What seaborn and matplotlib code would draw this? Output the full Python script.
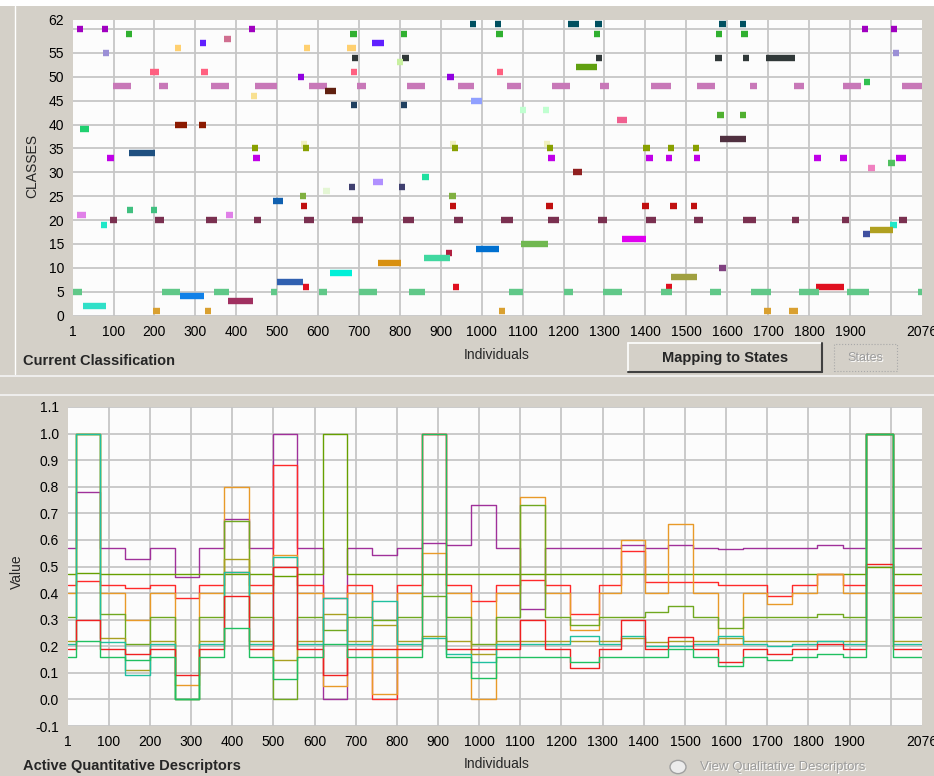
import numpy as np
import pandas as pd
import matplotlib
matplotlib.use("Agg")
import matplotlib.pyplot as plt
from matplotlib.patches import Rectangle, Circle
from matplotlib.lines import Line2D
import seaborn as sns

# ---------------- DATA ----------------
# Top panel: class assignment segments (start individual, end individual, class)
seg_start = [10, 71, 431, 1929, 2000,
             971, 1032, 1211, 1277, 1580, 1631,
             130, 678, 802, 1035, 1274, 1572, 1634,
             370, 311, 732, 250, 565, 671, 74, 2005,
             682, 805, 1279, 1570, 1638, 1695, 792, 1231,
             190, 315, 680, 1037, 550, 915, 1934,
             99, 211, 338, 446, 578, 695, 818, 942, 1062, 1172, 1290, 1414, 1527, 1656, 1764, 1884, 2028,
             617, 435, 974, 680, 802, 1093, 1149, 1575, 1631, 1331, 250, 310, 18, 1583,
             558, 922, 1152,
             438, 562, 927, 1159, 1394, 1455, 1516,
             138,
             84, 441, 1162, 1402, 1450, 1518, 1812, 1876, 2012,
             1993, 1944, 1223, 854, 734, 675, 797, 612, 555, 920, 490,
             558, 922, 1157, 1392, 1460, 1511,
             132, 191, 11, 375,
             92, 201, 326, 444, 566, 683, 808, 933, 1047, 1162, 1285, 1402, 1519, 1639, 1759, 1881, 2020,
             69, 1998, 1950, 1932, 1343, 1097, 986, 912, 859, 746, 1580, 629, 1463, 500,
             562, 929, 1450, 1818,
             1, 219, 346, 484, 602, 700, 822, 1067, 1201, 1296, 1438, 1558, 1658, 1776, 1893, 2067,
             263, 380, 26,
             197, 323, 1042, 1690, 1751]
seg_end = [26, 87, 447, 1945, 2016,
           987, 1048, 1238, 1293, 1596, 1647,
           146, 694, 818, 1051, 1290, 1588, 1650,
           386, 327, 761, 266, 581, 692, 90, 2021,
           698, 821, 1295, 1586, 1654, 1766, 808, 1282,
           212, 331, 696, 1053, 566, 931, 1950,
           143, 233, 382, 500, 622, 717, 862, 981, 1096, 1216, 1312, 1463, 1571, 1673, 1788, 1928, 2076,
           644, 451, 1001, 696, 818, 1109, 1165, 1591, 1647, 1356, 280, 326, 40, 1646,
           574, 938, 1168,
           454, 578, 943, 1175, 1410, 1471, 1532,
           202,
           100, 457, 1178, 1418, 1466, 1534, 1828, 1892, 2036,
           2009, 1960, 1245, 870, 759, 691, 813, 628, 571, 936, 514,
           574, 938, 1173, 1408, 1476, 1527,
           148, 207, 33, 391,
           108, 223, 353, 460, 590, 710, 835, 955, 1077, 1189, 1307, 1426, 1541, 1671, 1776, 1898, 2040,
           85, 2014, 2006, 1948, 1402, 1162, 1042, 928, 923, 803, 1596, 683, 1526, 563,
           578, 945, 1466, 1886,
           23, 263, 383, 500, 622, 744, 862, 1101, 1223, 1343, 1465, 1585, 1707, 1825, 1947, 2076,
           321, 441, 82,
           213, 339, 1058, 1706, 1772]
seg_class = [60, 60, 60, 60, 60,
             61, 61, 61, 61, 61, 61,
             59, 59, 59, 59, 59, 59, 59,
             58, 57, 57, 56, 56, 56, 55, 55,
             54, 54, 54, 54, 54, 54, 53, 52,
             51, 51, 51, 51, 50, 50, 49,
             48, 48, 48, 48, 48, 48, 48, 48, 48, 48, 48, 48, 48, 48, 48, 48, 48,
             47, 46, 45, 44, 44, 43, 43, 42, 42, 41, 40, 40, 39, 37,
             36, 36, 36,
             35, 35, 35, 35, 35, 35, 35,
             34,
             33, 33, 33, 33, 33, 33, 33, 33, 33,
             32, 31, 30, 29, 28, 27, 27, 26, 25, 25, 24,
             23, 23, 23, 23, 23, 23,
             22, 22, 21, 21,
             20, 20, 20, 20, 20, 20, 20, 20, 20, 20, 20, 20, 20, 20, 20, 20, 20,
             19, 19, 18, 17, 16, 15, 14, 13, 12, 11, 10, 9, 8, 7,
             6, 6, 6, 6,
             5, 5, 5, 5, 5, 5, 5, 5, 5, 5, 5, 5, 5, 5, 5, 5,
             4, 3, 2,
             1, 1, 1, 1, 1]

# Bottom panel: descriptor values, piecewise constant per block of individuals
block_starts = [1, 20, 78, 140, 200, 262, 320, 380, 440, 500, 558, 620, 680, 740, 800,
                860, 920, 980, 1040, 1100, 1160, 1220, 1290, 1345, 1402, 1460, 1520,
                1580, 1640, 1700, 1760, 1820, 1885, 1940, 2005]
last_individual = 2076

desc_purple = [.57, .78, .57, .53, .57, .46, .57, .68, .57, 1.0, .57, 0.0, .57, .545, .57, .59, .58, .73,
               .57, .34, .57, .57, .57, .58, .57, .58, .57, .565, .57, .57, .57, .58, .57, 1.0, .57]
desc_green_top = [.47, .475, .47, .47, .47, .47, .47, .47, .47, .465, .47, 1.0, .47, .47, .47, .47, .47, .47,
                  .47, .47, .47, .47, .47, .47, .47, .47, .47, .47, .47, .47, .47, .47, .47, .50, .47]
desc_red_top = [.43, .445, .43, .42, .43, .38, .43, .48, .43, .88, .43, .38, .43, .0, .43, 1.0, .43, .37,
                .43, .45, .43, .32, .43, .56, .44, .44, .44, .43, .43, .39, .43, .47, .43, 1.0, .43]
desc_orange = [.40, 1.0, .40, .30, .40, .055, .40, .80, .40, .545, .40, .05, .40, .02, .40, .55, .40, .0,
               .40, .76, .40, .26, .40, .60, .40, .66, .40, .21, .40, .36, .40, .47, .40, 1.0, .40]
desc_green_mid = [.31, 1.0, .32, .21, .31, .0, .31, .67, .31, .0, .31, .26, .31, .30, .31, .39, .31, .21,
                  .31, .73, .31, .28, .31, .31, .33, .35, .31, .27, .31, .31, .31, .32, .31, 1.0, .31]
desc_olive = [.22, 1.0, .23, .11, .22, .0, .22, .53, .22, .15, .22, .32, .22, .28, .22, .24, .22, .17,
              .22, .22, .22, .22, .22, .23, .215, .22, .22, .23, .22, .22, .22, .22, .22, 1.0, .22]
desc_teal = [.21, 1.0, .215, .09, .21, .0, .21, .48, .21, .535, .21, .38, .21, .37, .21, .23, .17, .14,
             .21, .21, .21, .24, .21, .24, .20, .20, .21, .24, .21, .20, .21, .22, .21, 1.0, .21]
desc_red_low = [.19, .30, .19, .17, .19, .09, .19, .39, .19, .50, .19, .09, .19, .19, .19, 1.0, .19, .19,
                .19, .30, .19, .12, .19, .30, .19, .235, .19, .14, .19, .17, .19, .21, .19, .51, .19]
desc_green_low = [.16, .22, .16, .15, .16, .0, .16, .27, .16, .075, .16, .21, .16, .16, .16, 1.0, .16, .08,
                  .16, .16, .16, .14, .16, .16, .16, .19, .16, .125, .16, .15, .16, .17, .16, 1.0, .16]

x_tick_values = [1, 100, 200, 300, 400, 500, 600, 700, 800, 900, 1000, 1100, 1200, 1300,
                 1400, 1500, 1600, 1700, 1800, 1900, 2076]
class_tick_values = [0, 5, 10, 15, 20, 25, 30, 35, 40, 45, 50, 55, 62]
value_tick_values = [-0.1, 0.0, 0.1, 0.2, 0.3, 0.4, 0.5, 0.6, 0.7, 0.8, 0.9, 1.0, 1.1]

# ---------------- STYLE ----------------
class_colors = {
    1: '#d9a030', 2: '#30e0c8', 3: '#a03060', 4: '#1080e8', 5: '#60c888', 6: '#e01020',
    7: '#3060b0', 8: '#a0a040', 9: '#00f0d8', 10: '#804080', 11: '#d89010', 12: '#40d8a0',
    13: '#b02040', 14: '#0070d0', 15: '#70b850', 16: '#e000f0', 17: '#4050a0', 18: '#b0a020',
    19: '#20e8c8', 20: '#7a3050', 21: '#e080e8', 22: '#40c080', 23: '#c01010', 24: '#1060b0',
    25: '#80b040', 26: '#e4f6d4', 27: '#404070', 28: '#b090ff', 29: '#20e0a0', 30: '#902020',
    31: '#f080c0', 32: '#50c060', 33: '#c000e8', 34: '#1f5080', 35: '#88a000', 36: '#f0f0c0',
    37: '#503040', 39: '#20d070', 40: '#8b1a00', 41: '#f06090', 42: '#50b030', 43: '#c0ffd0',
    44: '#204060', 45: '#90a0ff', 46: '#f8e090', 47: '#602010', 48: '#c878b8', 49: '#30c050',
    50: '#9000e0', 51: '#ff6080', 52: '#60a010', 53: '#c8f0a0', 54: '#303838', 55: '#9b8fd6',
    56: '#ffd070', 57: '#6020ff', 58: '#d06f90', 59: '#30b030', 60: '#a000c0', 61: '#005060'}

series = {
    'purple': (desc_purple, '#a0309a'),
    'green_top': (desc_green_top, '#66a000'),
    'red_top': (desc_red_top, '#ff2a2a'),
    'orange': (desc_orange, '#e89a28'),
    'green_mid': (desc_green_mid, '#70a820'),
    'olive': (desc_olive, '#a8a020'),
    'teal': (desc_teal, '#20c0a0'),
    'red_low': (desc_red_low, '#f02020'),
    'green_low': (desc_green_low, '#20c060'),
}

BG = '#d4d0c8'
GRID = '#c6c6c6'
W, H = 934, 776

sns.set_theme(style='white')
plt.rcParams['font.family'] = ['Liberation Sans', 'DejaVu Sans']

fig = plt.figure(figsize=(W / 100, H / 100), dpi=100, facecolor=BG)


def rect(l, t, r, b):
    return [l / W, 1 - b / H, (r - l) / W, (b - t) / H]


def fx(x):
    return x / W


def fy(y):
    return 1 - y / H


def fline(x0, y0, x1, y1, color, lw=1.0):
    fig.add_artist(Line2D([fx(x0), fx(x1)], [fy(y0), fy(y1)], color=color, lw=lw,
                          transform=fig.transFigure))


# decorations of the window
fig.add_artist(Rectangle((0, fy(6)), 1, 6 / H, transform=fig.transFigure, facecolor='white',
                         edgecolor='none'))
fline(15, 6, 15, 374, 'white', 1.0)
fline(0, 376, W, 376, '#f4f4f4', 1.2)
fline(0, 395, W, 395, '#f4f4f4', 1.2)

# ---------------- TOP PANEL ----------------
ax1 = fig.add_axes(rect(73, 19.5, 922, 315.5))
ax1.set_facecolor('#fcfcfc')
ax1.set_xlim(1, last_individual)
ax1.set_ylim(0, 62)
for v in range(100, 2001, 100):
    ax1.axvline(v, color=GRID, lw=1.3, zorder=0)
for c in range(0, 61, 5):
    ax1.axhline(c, color=GRID, lw=1.3, zorder=0)

seg_df = pd.DataFrame({'start': seg_start, 'end': seg_end, 'cls': seg_class})
lc = ax1.hlines(seg_df['cls'], seg_df['start'], seg_df['end'],
                colors=[class_colors[c] for c in seg_df['cls']], lw=4.6, zorder=3)
lc.set_capstyle('butt')

ax1.set_xticks(x_tick_values)
ax1.set_xticklabels([str(v) for v in x_tick_values])
ax1.set_yticks(class_tick_values)
ax1.set_yticklabels([str(v) for v in class_tick_values])
ax1.tick_params(axis='both', direction='out', length=5, width=1, color='black',
                labelsize=10, pad=1.5, labelcolor='black')
for s in ax1.spines.values():
    s.set_visible(False)
ax1.set_xlabel('')
ax1.set_ylabel('')

fig.text(fx(32), fy(166), 'CLASSES', rotation=90, ha='center', va='center', fontsize=10)
fig.text(fx(497), fy(355), 'Individuals', ha='center', va='center', fontsize=10)
fig.text(fx(23), fy(361), 'Current Classification', ha='left', va='center', fontsize=10.5,
         fontweight='bold')

# buttons
fig.add_artist(Rectangle((fx(628), fy(372)), (822 - 628) / W, (372 - 343) / H,
                         transform=fig.transFigure, facecolor=BG, edgecolor='none'))
fline(628, 343, 822, 343, 'white', 1.2)
fline(628, 343, 628, 372, 'white', 1.2)
fline(628, 372, 822, 372, '#404040', 1.5)
fline(822, 343, 822, 372, '#404040', 1.5)
fig.text(fx(725), fy(358), 'Mapping to States', ha='center', va='center', fontsize=10.5,
         fontweight='bold')
fig.add_artist(Rectangle((fx(834), fy(371)), (897 - 834) / W, (371 - 344) / H,
                         transform=fig.transFigure, facecolor=BG, edgecolor='#a8a8a8',
                         lw=0.8, linestyle=':'))
fig.text(fx(866), fy(359), 'States', ha='center', va='center', fontsize=9, color='white')
fig.text(fx(865), fy(358), 'States', ha='center', va='center', fontsize=9, color='#9c9c9c')

# ---------------- BOTTOM PANEL ----------------
ax2 = fig.add_axes(rect(68, 407, 922, 726))
ax2.set_facecolor('#fcfcfc')
ax2.set_xlim(1, last_individual)
ax2.set_ylim(-0.1, 1.1)
for v in range(100, 2001, 100):
    ax2.axvline(v, color=GRID, lw=1.3, zorder=0)
for k in range(-1, 12):
    ax2.axhline(k / 10, color=GRID, lw=1.3, zorder=0)

rows = []
for name, (vals, _) in series.items():
    xs = block_starts + [last_individual]
    ys = list(vals) + [vals[-1]]
    for x, y in zip(xs, ys):
        rows.append({'individual': x, 'value': y, 'descriptor': name})
desc_df = pd.DataFrame(rows)
sns.lineplot(data=desc_df, x='individual', y='value', hue='descriptor',
             palette={k: c for k, (_, c) in series.items()}, estimator=None, sort=False,
             drawstyle='steps-post', lw=1.0, legend=False, ax=ax2, zorder=3)

ax2.set_xticks(x_tick_values)
ax2.set_xticklabels([str(v) for v in x_tick_values])
ax2.set_yticks(value_tick_values)
ax2.set_yticklabels([f'{v:.1f}' for v in value_tick_values])
ax2.tick_params(axis='both', direction='out', length=5, width=1, color='black',
                labelsize=10, pad=1.5, labelcolor='black')
for s in ax2.spines.values():
    s.set_visible(False)
ax2.set_xlabel('')
ax2.set_ylabel('')

fig.text(fx(17), fy(572), 'Value', rotation=90, ha='center', va='center', fontsize=10)
fig.text(fx(497), fy(764), 'Individuals', ha='center', va='center', fontsize=10)
fig.text(fx(23), fy(766), 'Active Quantitative Descriptors', ha='left', va='center',
         fontsize=10.5, fontweight='bold')

fig.add_artist(Circle((fx(678), fy(767)), 8 / W, transform=fig.transFigure,
                      facecolor='#ececec', edgecolor='#a0a0a0', lw=1.0))
fig.text(fx(701), fy(768), 'View Qualitative Descriptors', ha='left', va='center',
         fontsize=9.5, color='white')
fig.text(fx(700), fy(767), 'View Qualitative Descriptors', ha='left', va='center',
         fontsize=9.5, color='#9c9c9c')

fig.savefig('out.png', dpi=100, facecolor=BG)
